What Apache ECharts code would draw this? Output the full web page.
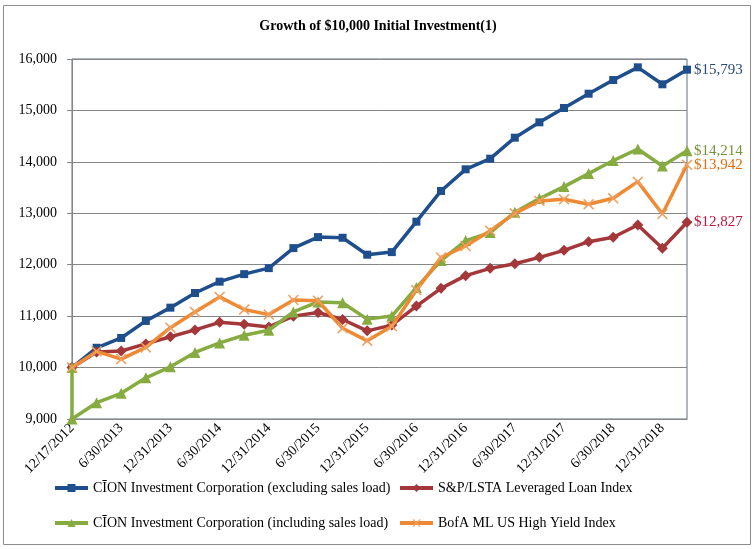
<!DOCTYPE html>
<html>
<head>
<meta charset="utf-8">
<script src="https://cdn.jsdelivr.net/npm/echarts@6/dist/echarts.min.js"></script>
<style>html,body{margin:0;padding:0;background:#fff}#c{width:756px;height:549px}</style>
</head>
<body>
<div id="c"></div>
<script>
var categories = ['12/17/2012','3/31/2013','6/30/2013','9/30/2013','12/31/2013','3/31/2014','6/30/2014','9/30/2014','12/31/2014','3/31/2015','6/30/2015','9/30/2015','12/31/2015','3/31/2016','6/30/2016','9/30/2016','12/31/2016','3/31/2017','6/30/2017','9/30/2017','12/31/2017','3/31/2018','6/30/2018','9/30/2018','12/31/2018','3/31/2019'];
var cionExcl = [10000,10385,10576,10907,11165,11450,11670,11817,11934,12323,12537,12524,12195,12245,12837,13434,13855,14062,14470,14769,15047,15325,15591,15838,15508,15793];
var loanIndex = [10000,10304,10322,10460,10600,10732,10880,10842,10790,11000,11070,10935,10714,10826,11196,11540,11787,11929,12020,12143,12280,12448,12533,12772,12320,12827];
var cionInclStart = 10000;
var cionIncl = [9000,9317,9500,9800,10015,10295,10480,10629,10726,11082,11277,11260,10942,11002,11555,12080,12470,12624,13020,13286,13519,13772,14025,14250,13919,14214];
var highYield = [10000,10315,10165,10392,10775,11082,11374,11128,11030,11314,11300,10764,10520,10805,11506,12140,12364,12662,12999,13239,13272,13175,13291,13615,12986,13942];
var names = ['C\u012AON Investment Corporation (excluding sales load)','S&P/LSTA Leveraged Loan Index','C\u012AON Investment Corporation (including sales load)','BofA ML US High Yield Index'];

function pairs(arr){ return arr.map(function(v,i){ return [i,v]; }); }
function money(p){ var v = Array.isArray(p.value) ? p.value[1] : p.value; return '$' + v.toLocaleString('en-US'); }
var serif = 'Liberation Serif';
function mkSeries(name, data, color, symbol, size, symColor, labelColor, z){
  return {
    name: name, type: 'line', data: data, z: z,
    symbol: symbol, symbolSize: size,
    lineStyle: {color: color, width: 3.5},
    itemStyle: {color: symColor || color},
    emphasis: {disabled: true},
    endLabel: {show: true, formatter: money, color: labelColor, fontFamily: serif, fontSize: 15, distance: 7}
  };
}
var xPath = 'path://M0,1L1,0L5,4L9,0L10,1L6,5L10,9L9,10L5,6L1,10L0,9L4,5Z';
var chart = echarts.init(document.getElementById('c'));
function lg(name, left, top){
  return {data:[name], left:left, top:top, padding:0, itemWidth:33, itemHeight:10, itemGap:0,
    lineStyle:{width:4},
    textStyle:{fontFamily:serif, fontSize:14, color:'#000'}, selectedMode:false};
}
chart.setOption({
  animation: false,
  title: {text: 'Growth of $10,000 Initial Investment(1)', left: 'center', top: 14,
    textStyle: {fontFamily: serif, fontSize: 14, fontWeight: 'bold', color: '#000'}},
  graphic: [{type:'rect', shape:{x:3.5, y:5.5, width:747, height:539}, style:{fill:'none', stroke:'#8c8c8c', lineWidth:1}, silent:true}],
  legend: [lg(names[0], 53, 481), lg(names[1], 398, 481), lg(names[2], 53, 516), lg(names[3], 398, 516)],
  grid: {left: 72, right: 69, top: 59, bottom: 130, show: true, borderColor: '#5f7081', borderWidth: 1, containLabel: false},
  xAxis: {type: 'category', data: categories, boundaryGap: false,
    axisLine: {lineStyle: {color: '#868686'}}, axisTick: {show: false},
    axisLabel: {interval: 1, rotate: 45, margin: 7, fontFamily: serif, fontSize: 14, color: '#000'}},
  yAxis: {type: 'value', min: 9000, max: 16000, interval: 1000,
    axisLine: {show: true, lineStyle: {color: '#868686'}},
    axisTick: {show: true, length: 5, lineStyle: {color: '#868686'}},
    splitLine: {lineStyle: {color: '#868686'}},
    axisLabel: {margin: 15, fontFamily: serif, fontSize: 14, color: '#000', formatter: function(v){ return v.toLocaleString('en-US'); }}},
  series: [
    mkSeries(names[0], pairs(cionExcl), '#1f4e8c', 'rect', 8, '#1f4e8c', '#2b4a73', 4),
    mkSeries(names[1], pairs(loanIndex), '#a4373a', 'diamond', 11, '#a4373a', '#c0143c', 5),
    mkSeries(names[2], [[0, cionInclStart]].concat(pairs(cionIncl)), '#86ac41', 'triangle', 11, '#86ac41', '#77933c', 6),
    mkSeries(names[3], pairs(highYield), '#ee8a33', xPath, 11, '#f0a060', '#e46c0a', 7)
  ]
});
</script>
</body>
</html>
